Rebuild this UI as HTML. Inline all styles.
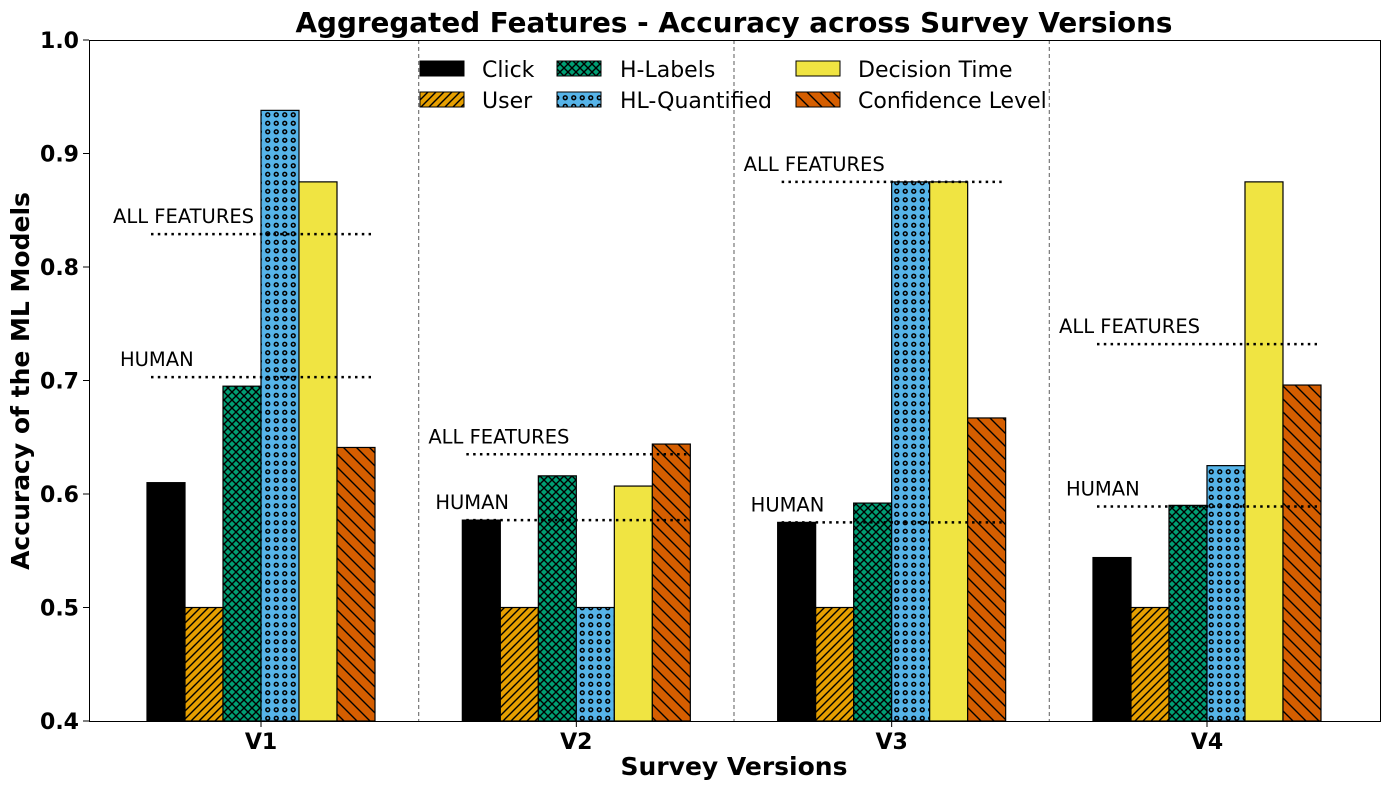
<!DOCTYPE html>
<html><head><meta charset="utf-8"><style>
body{margin:0;background:#fff}
svg{font-family:"DejaVu Sans","Liberation Sans",sans-serif}
</style></head><body>
<svg id="chart" width="1389" height="790" xmlns="http://www.w3.org/2000/svg">
<defs>
<pattern id="p-user" patternUnits="userSpaceOnUse" width="8" height="8"><rect width="8" height="8" fill="#E69F00"/><path d="M-2,10 L10,-2 M-2,2 L2,-2 M6,10 L10,6" stroke="#000" stroke-width="1.4"/></pattern>
<pattern id="p-hl" patternUnits="userSpaceOnUse" width="8" height="8"><rect width="8" height="8" fill="#009E73"/><path d="M0,0 L8,8 M8,0 L0,8" stroke="#000" stroke-width="1.4"/></pattern>
<pattern id="p-hlq" patternUnits="userSpaceOnUse" width="8.5" height="8.5"><rect width="8.5" height="8.5" fill="#56B4E9"/><circle cx="4.25" cy="4.25" r="1.9" fill="none" stroke="#000" stroke-width="1.5"/></pattern>
<pattern id="p-cl" patternUnits="userSpaceOnUse" width="13" height="13"><rect width="13" height="13" fill="#D55E00"/><path d="M-2,-2 L15,15 M-2,11 L2,15 M11,-2 L15,2" stroke="#000" stroke-width="1.4"/></pattern>
</defs>
<g id="plot"></g>
<rect x="89.5" y="40.5" width="1291" height="681" fill="none" stroke="#000" stroke-width="1"/>
<text x="734" y="32" text-anchor="middle" font-size="27.8" font-weight="bold">Aggregated Features - Accuracy across Survey Versions</text>
<text x="734" y="775" text-anchor="middle" font-size="25" font-weight="bold">Survey Versions</text>
<text transform="translate(29,381) rotate(-90)" text-anchor="middle" font-size="25" font-weight="bold">Accuracy of the ML Models</text>
<g font-size="22">
<rect x="420" y="61" width="44" height="15" fill="#000" stroke="#000"/><text x="482" y="77">Click</text>
<rect x="420" y="92" width="44" height="15" fill="url(#p-user)" stroke="#000"/><text x="482" y="108">User</text>
<rect x="557" y="61" width="44" height="15" fill="url(#p-hl)" stroke="#000"/><text x="620" y="77">H-Labels</text>
<rect x="557" y="92" width="44" height="15" fill="url(#p-hlq)" stroke="#000"/><text x="620" y="108">HL-Quantified</text>
<rect x="796" y="61" width="44" height="15" fill="#F0E442" stroke="#000"/><text x="858" y="77">Decision Time</text>
<rect x="796" y="92" width="44" height="15" fill="url(#p-cl)" stroke="#000"/><text x="858" y="108">Confidence Level</text>
</g>
</svg>
<script>
const versions=["V1","V2","V3","V4"];
const seriesNames=["Click","User","H-Labels","HL-Quantified","Decision Time","Confidence Level"];
const clickVals=[0.610,0.577,0.575,0.544];
const userVals=[0.5,0.5,0.5,0.5];
const hLabelVals=[0.695,0.616,0.592,0.590];
const hlqVals=[0.938,0.5,0.875,0.625];
const decisionVals=[0.875,0.607,0.875,0.875];
const confVals=[0.641,0.644,0.667,0.696];
const allFeatures=[0.829,0.635,0.875,0.732];
const humanVals=[0.703,0.577,0.575,0.589];
const yTicks=[0.4,0.5,0.6,0.7,0.8,0.9,1.0];

const NS="http://www.w3.org/2000/svg";
const g=document.getElementById('plot');
const x0=89,x1=1380,y0=721,y1=40;
const yS=v=>y0-(v-0.4)/(0.6)*(y0-y1);
const barW=38;
function mk(t,a){const e=document.createElementNS(NS,t);for(const k in a)e.setAttribute(k,a[k]);g.appendChild(e);return e;}
const center=i=>261+i*315.33;
for(let i=1;i<versions.length;i++){
 const e=mk('line',{x1:(center(i-1)+center(i))/2,x2:(center(i-1)+center(i))/2,y1:40,y2:721,stroke:'#777','stroke-dasharray':'4,3','stroke-width':1.2});
 
 
}
const series=[clickVals,userVals,hLabelVals,hlqVals,decisionVals,confVals];
const fills=['#000','url(#p-user)','url(#p-hl)','url(#p-hlq)','#F0E442','url(#p-cl)'];
versions.forEach((v,i)=>{
 const left=center(i)-3*barW;
 series.forEach((s,j)=>{
  const y=yS(s[i]);
  const r=mk('rect',{x:left+j*barW,y:y,width:barW,height:y0-y,fill:fills[j],stroke:'#000','stroke-width':1.2});
  
  
 });
 [[allFeatures,'ALL FEATURES',-34],[humanVals,'HUMAN',-27]].forEach(([arr,lab,dx])=>{
  const y=yS(arr[i]);
  const l=mk('line',{x1:left+4,x2:left+224,y1:y,y2:y,stroke:'#000','stroke-width':2.5,'stroke-dasharray':'2.5,4.3'});
  
  
  const t=mk('text',{x:left+dx,y:y-11,'font-size':19.5});
  t.textContent=lab;
  
  
 });
 mk('line',{x1:center(i),x2:center(i),y1:721,y2:727,stroke:'#000'});
 const t=mk('text',{x:center(i),y:749,'text-anchor':'middle','font-size':22,'font-weight':'bold'});
 t.textContent=v;
 
 
});
yTicks.forEach(v=>{
 const y=yS(v);
 mk('line',{x1:83,x2:89,y1:y,y2:y,stroke:'#000'});
 const t=mk('text',{x:79,y:y+8,'text-anchor':'end','font-size':22,'font-weight':'bold'});
 t.textContent=v.toFixed(1);
 
 
});
</script>
</body></html>
